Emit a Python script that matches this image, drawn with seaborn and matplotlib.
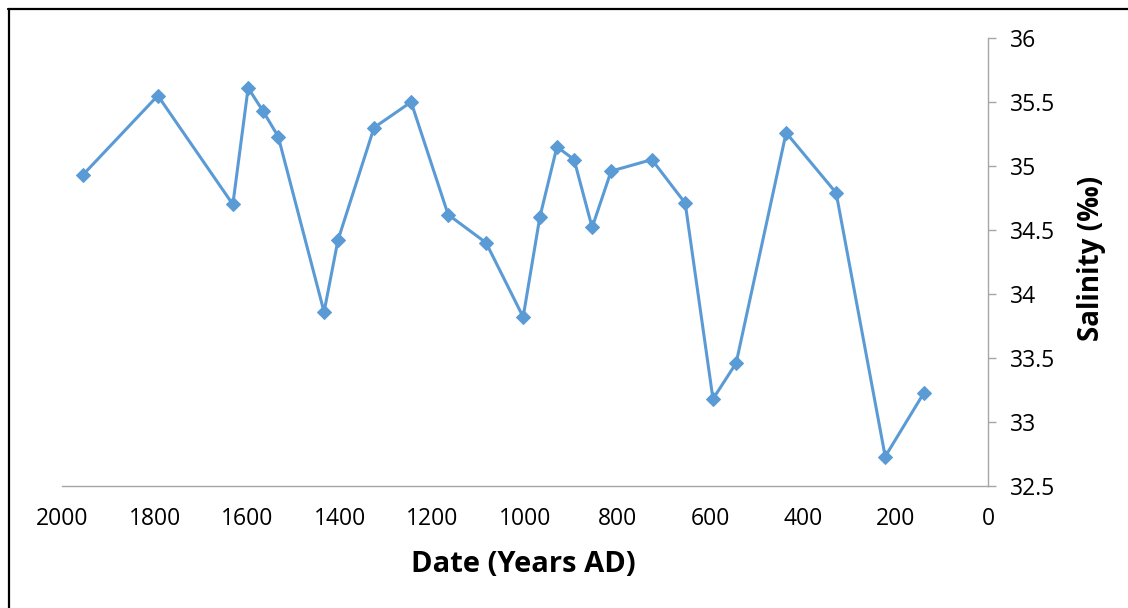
import matplotlib
matplotlib.use("Agg")
import matplotlib.pyplot as plt
from matplotlib.lines import Line2D
import seaborn as sns
import pandas as pd

# Sample ages (years AD) and reconstructed salinity (per mil)
years = [1955, 1793, 1631, 1598, 1566, 1533, 1434, 1404, 1326, 1246,
         1166, 1084, 1004, 968, 931, 894, 855, 814, 726, 654,
         594, 544, 436, 328, 222, 138]
salinity = [34.93, 35.55, 34.70, 35.61, 35.43, 35.23, 33.86, 34.42, 35.30, 35.50,
            34.62, 34.40, 33.82, 34.60, 35.15, 35.05, 34.52, 34.96, 35.05, 34.71,
            33.18, 33.46, 35.26, 34.79, 32.73, 33.23]
x_ticks = [2000, 1800, 1600, 1400, 1200, 1000, 800, 600, 400, 200, 0]
y_ticks = [32.5, 33, 33.5, 34, 34.5, 35, 35.5, 36]

df = pd.DataFrame({"year": years, "salinity": salinity})

sns.set_style("white")
plt.rcParams["font.family"] = ["Open Sans", "DejaVu Sans"]
plt.rcParams["text.color"] = "black"

fig = plt.figure(figsize=(11.28, 6.08), dpi=100)
ax = fig.add_axes([62 / 1128, 1 - 486 / 608, (988 - 62) / 1128, (486 - 38) / 608])

line_color = "#5B9BD5"
sns.lineplot(data=df, x="year", y="salinity", ax=ax, sort=False,
             color=line_color, linewidth=2.2, marker="D", markersize=7.5,
             markeredgecolor=line_color, markerfacecolor=line_color)

ax.set_xlim(2000, 0)
ax.set_ylim(32.5, 36)
ax.set_xticks(x_ticks)
ax.set_xticklabels([str(v) for v in x_ticks])
ax.set_yticks(y_ticks)
ax.set_yticklabels([f"{v:g}" for v in y_ticks])

ax.yaxis.tick_right()
axis_gray = "#A6A6A6"
for side in ("left", "top"):
    ax.spines[side].set_visible(False)
for side in ("right", "bottom"):
    ax.spines[side].set_visible(True)
    ax.spines[side].set_color(axis_gray)
    ax.spines[side].set_linewidth(1.0)

ax.tick_params(axis="both", direction="out", length=6, width=1.0,
               color=axis_gray, labelcolor="black", labelsize=16.5)
ax.tick_params(axis="x", pad=9)
ax.tick_params(axis="y", pad=10)

ax.set_xlabel("")
ax.set_ylabel("")
fig.text(523 / 1128, 1 - 565 / 608, "Date (Years AD)", ha="center", va="center",
         fontsize=21, fontweight="bold", color="black")
fig.text(1092 / 1128, 1 - 258 / 608, "Salinity (‰)", ha="center", va="center",
         rotation=90, fontsize=20, fontweight="bold", color="black")

# Frame edges along the left and top of the figure
fig.add_artist(Line2D([8.5 / 1128, 8.5 / 1128], [0, 1 - 9 / 608],
                      transform=fig.transFigure, color="black", linewidth=1.6))
fig.add_artist(Line2D([8 / 1128, 1], [1 - 9 / 608, 1 - 9 / 608],
                      transform=fig.transFigure, color="black", linewidth=1.6))

fig.savefig("out.png", dpi=100)
